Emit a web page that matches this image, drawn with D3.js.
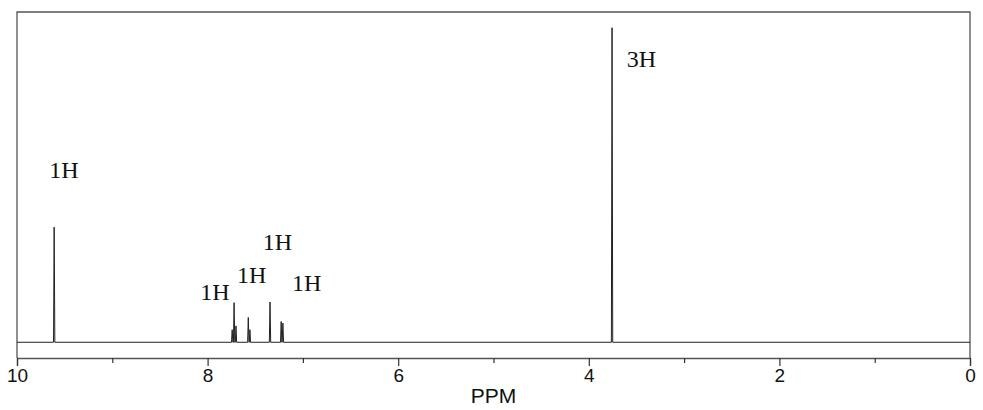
<!DOCTYPE html>
<html>
<head>
<meta charset="utf-8">
<script src="https://cdn.jsdelivr.net/npm/d3@7"></script>
<style>
  html, body { margin: 0; padding: 0; background: #fff; }
  svg { display: block; }
</style>
</head>
<body>
<svg id="chart" width="983" height="410"></svg>
<script>
// ---- data ----
const peakPpm       = [9.61, 7.742, 7.722, 7.702, 7.573, 7.556, 7.345, 7.228, 7.210];
const peakIntensity = [36.6, 4.0, 12.6, 5.2, 7.9, 4.0, 12.8, 6.6, 6.1];
const labelText  = ["1H", "3H", "1H", "1H", "1H", "1H"];
const labelPpm   = [9.507, 3.447, 7.922, 7.537, 7.267, 6.960];
const labelLevel = [52.2, 87.6, 13.4, 18.9, 29.3, 16.4];
// the 3H singlet
const singletPpm = [3.756];
const singletIntensity = [100];
const majorTicks = [10, 8, 6, 4, 2, 0];
const minorTicks = [9, 7, 5, 3, 1];
const xTitle = "PPM";

// ---- layout ----
const mLeft = 17, mRight = 970, mTop = 12, mBottom = 358;
const svg = d3.select("#chart");
const x = d3.scaleLinear().domain([10, 0]).range([mLeft, mRight]);
const y = d3.scaleLinear().domain([-5, 105]).range([mBottom, mTop]);

// frame (top, left, right)
svg.append("path")
  .attr("d", `M${mLeft},${mBottom}V${mTop}H${mRight}V${mBottom}`)
  .attr("fill", "none").attr("stroke", "#555").attr("stroke-width", 1.3);

// spectrum
const allPeaks = peakPpm.map((p, i) => ({p, h: peakIntensity[i]}))
  .concat(singletPpm.map((p, i) => ({p, h: singletIntensity[i]})))
  .sort((a, b) => b.p - a.p);
const hw = 0.007;
const pts = [[10, 0]];
allPeaks.forEach(d => { pts.push([d.p + hw, 0], [d.p, d.h], [d.p - hw, 0]); });
pts.push([0, 0]);
svg.append("path")
  .datum(pts)
  .attr("d", d3.line().x(d => x(d[0])).y(d => y(d[1])))
  .attr("fill", "none").attr("stroke", "#222").attr("stroke-width", 1)
  .attr("stroke-linejoin", "miter");

// axis
const axis = d3.axisBottom(x).tickValues(majorTicks).tickFormat(d3.format("d"))
  .tickSize(8).tickPadding(3);
const gA = svg.append("g").attr("transform", `translate(0,${mBottom})`).call(axis);
gA.select(".domain").attr("stroke", "#555").attr("stroke-width", 1.3);
gA.selectAll(".tick line").attr("stroke", "#333").attr("stroke-width", 1.2);
gA.selectAll(".tick text")
  .attr("font-family", "Liberation Sans, Arial, sans-serif")
  .attr("font-size", 19).attr("fill", "#111");
const axisMinor = d3.axisBottom(x).tickValues(minorTicks).tickFormat("").tickSize(5);
const gM = svg.append("g").attr("transform", `translate(0,${mBottom})`).call(axisMinor);
gM.select(".domain").remove();
gM.selectAll(".tick line").attr("stroke", "#333").attr("stroke-width", 1.2);

svg.append("text")
  .attr("x", x(5)).attr("y", 403)
  .attr("text-anchor", "middle")
  .attr("font-family", "Liberation Sans, Arial, sans-serif")
  .attr("font-size", 21).attr("fill", "#111")
  .text(xTitle);

// integration labels
svg.selectAll("text.lab")
  .data(labelText)
  .join("text")
  .attr("class", "lab")
  .attr("x", (d, i) => x(labelPpm[i]))
  .attr("y", (d, i) => y(labelLevel[i]))
  .attr("text-anchor", "middle")
  .attr("font-family", "Liberation Serif, Times New Roman, serif")
  .attr("font-size", 24).attr("fill", "#111")
  .text(d => d);
</script>
</body>
</html>
